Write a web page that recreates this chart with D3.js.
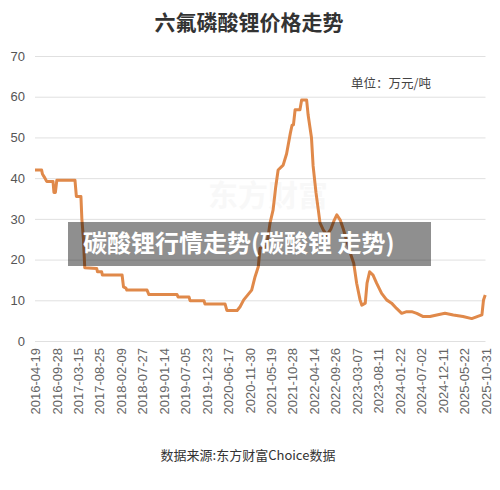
<!DOCTYPE html>
<html>
<head>
<meta charset="utf-8">
<script src="https://cdn.jsdelivr.net/npm/d3@7/dist/d3.min.js"></script>
<style>
  body { margin: 0; background: #fff; }
  svg { display: block; }
</style>
</head>
<body>
<div id="chart"></div>
<script>
// x-axis category labels (every ~5 months)
var tickLabels = ["2016-04-19","2016-09-28","2017-03-15","2017-08-25","2018-02-09","2018-07-27",
  "2019-01-14","2019-07-05","2019-12-23","2020-06-17","2020-11-30","2021-05-19","2021-10-28",
  "2022-04-14","2022-09-26","2023-03-07","2023-08-11","2024-01-22","2024-07-02","2024-12-11",
  "2025-05-22","2025-10-31"];

var yTicks = [0, 10, 20, 30, 40, 50, 60, 70];

// price change points (万元/吨)
var dates = ["2016-04-19","2016-06-08","2016-06-14","2016-07-03","2016-07-16","2016-09-02","2016-09-09",
  "2016-09-20","2016-10-01","2017-02-20","2017-03-03","2017-04-07","2017-04-14","2017-04-26","2017-05-06",
  "2017-08-05","2017-08-11","2017-09-12","2017-09-18","2018-02-19","2018-03-02","2018-03-21","2018-03-28",
  "2018-09-03","2018-09-18","2019-05-01","2019-05-09","2019-08-05","2019-08-13","2019-12-02","2019-12-10",
  "2020-05-23","2020-06-07","2020-08-26","2020-09-18","2020-10-16","2020-12-17","2021-01-13","2021-02-08",
  "2021-02-21","2021-04-15","2021-05-11","2021-06-04","2021-06-24","2021-07-12","2021-08-19","2021-09-14",
  "2021-10-12","2021-10-25","2021-11-05","2021-11-18","2021-12-26","2022-01-08","2022-02-16","2022-02-28",
  "2022-03-26","2022-04-08","2022-04-30","2022-05-18","2022-05-31","2022-06-25","2022-07-23","2022-08-23",
  "2022-09-15","2022-10-07","2022-11-02","2022-11-27","2023-01-18","2023-02-12","2023-03-06","2023-03-31",
  "2023-04-13","2023-05-08","2023-05-21","2023-06-09","2023-07-04","2023-07-30","2023-09-06","2023-10-14",
  "2023-11-21","2023-12-29","2024-02-06","2024-03-15","2024-04-22","2024-05-30","2024-07-18","2024-09-07",
  "2024-10-28","2024-12-29","2025-03-02","2025-05-14","2025-07-19","2025-09-08","2025-10-04","2025-10-16",
  "2025-10-29"];
var prices = [42,42,41,40,39.2,39.2,36.5,
  36.5,39.5,39.5,35.5,35.5,30,25,18,
  17.8,17,17,16.2,16.2,13.3,13,12.5,
  12.5,11.4,11.4,10.8,10.8,9.9,9.9,9.1,
  9.1,7.5,7.5,8.4,10.1,12.5,15.8,18.3,
  22.8,23.2,28.9,32.2,37.9,42,43.2,46,
  51,53,53.1,56.8,56.8,59.2,59.2,55.5,
  50,43,36.5,32.2,29,27.3,26,27.5,
  29.5,31,29.7,27.3,21.5,19.1,14.2,10.1,
  8.8,9.3,14.2,17,16.2,14.2,11.7,10.1,
  9.3,8,6.8,7.2,7.2,6.8,6,6,
  6.4,6.8,6.4,6,5.5,6.1,6.4,10.1,
  11.3];

var W = 500, H = 490;
var margin = {left: 35, right: 485.5, top: 56, bottom: 341};

var parse = d3.timeParse("%Y-%m-%d");
var tickDates = tickLabels.map(parse);
var data = dates.map(function(d, i) { return {date: parse(d), v: prices[i]}; });

var svg = d3.select("#chart").append("svg")
  .attr("width", W).attr("height", H);

// category-style axis: labels evenly spaced, dates placed between them
var x = d3.scaleTime()
  .domain(tickDates)
  .range(tickDates.map(function(d, i) {
    return margin.left + i * (margin.right - margin.left) / (tickDates.length - 1);
  }));

var y = d3.scaleLinear().domain([0, 70]).range([margin.bottom, margin.top]);

// title
svg.append("text")
  .attr("x", 249).attr("y", 30)
  .attr("text-anchor", "middle")
  .style("font-family", "'Noto Sans CJK SC'")
  .style("font-weight", "bold")
  .style("font-size", "21px")
  .style("fill", "#333")
  .text("六氟磷酸锂价格走势");

// grid + y labels
var yAxis = svg.append("g")
  .attr("transform", "translate(" + margin.left + ",0)")
  .call(d3.axisLeft(y).tickValues(yTicks).tickSize(-(margin.right - margin.left)).tickPadding(10));
yAxis.select(".domain").remove();
yAxis.selectAll("line").attr("stroke", "#e0e0e0");
yAxis.selectAll("text")
  .style("font-family", "'Liberation Sans', Arial")
  .style("font-size", "13px")
  .style("fill", "#555");

// x labels
var xAxis = svg.append("g")
  .attr("transform", "translate(0," + margin.bottom + ")")
  .call(d3.axisBottom(x).tickValues(tickDates).tickFormat(d3.timeFormat("%Y-%m-%d")).tickSize(0));
xAxis.select(".domain").remove();
xAxis.selectAll("text")
  .attr("transform", "rotate(-90)")
  .attr("x", -7).attr("y", 0).attr("dy", "0.35em")
  .style("text-anchor", "end")
  .style("font-family", "'Liberation Sans', Arial")
  .style("font-size", "13px")
  .style("fill", "#666");

// unit
svg.append("text")
  .attr("x", 431).attr("y", 88)
  .attr("text-anchor", "end")
  .style("font-family", "'Noto Sans CJK SC'")
  .style("font-size", "12.5px")
  .style("fill", "#444")
  .text("单位：万元/吨");

// faint watermark
svg.append("text")
  .attr("x", 208).attr("y", 206)
  .style("font-family", "'Noto Sans CJK SC'")
  .style("font-weight", "bold")
  .style("font-size", "30px")
  .style("fill", "#000")
  .style("opacity", 0.025)
  .text("东方财富");

// the line
svg.append("path")
  .datum(data)
  .attr("fill", "none")
  .attr("stroke", "#e0894a")
  .attr("stroke-width", 3)
  .attr("stroke-linejoin", "round")
  .attr("d", d3.line()
    .x(function(d) { return x(d.date); })
    .y(function(d) { return y(d.v); }));

// source
svg.append("text")
  .attr("x", 248).attr("y", 460)
  .attr("text-anchor", "middle")
  .style("font-family", "'Noto Sans CJK SC'")
  .style("font-size", "13px")
  .style("fill", "#333")
  .text("数据来源:东方财富Choice数据");

// overlay banner
svg.append("rect")
  .attr("x", 68).attr("y", 222)
  .attr("width", 363).attr("height", 44)
  .attr("fill", "rgba(0,0,0,0.44)");
svg.append("text")
  .attr("x", 83).attr("y", 252)
  .style("font-family", "'Noto Sans CJK SC'")
  .style("font-weight", "bold")
  .style("font-size", "24px")
  .style("fill", "#fff")
  .text("碳酸锂行情走势(碳酸锂 走势)");
</script>
</body>
</html>
